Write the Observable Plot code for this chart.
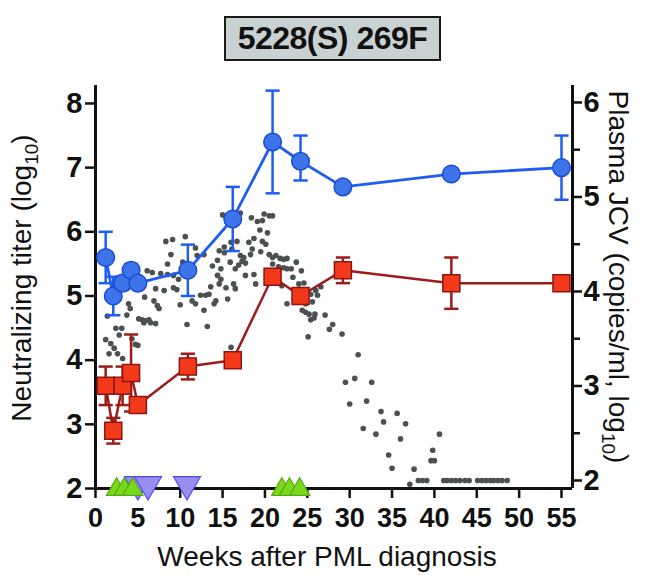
<!DOCTYPE html>
<html><head><meta charset="utf-8">
<script src="https://cdn.jsdelivr.net/npm/d3@7"></script>
<script src="https://cdn.jsdelivr.net/npm/@observablehq/plot@0.6"></script>
<style>
body{margin:0;background:#fff;}
#wrap{position:relative;width:649px;height:587px;font-family:"Liberation Sans",Arial,Helvetica,sans-serif;}
#chart{position:absolute;left:0;top:0;}
#title{position:absolute;left:224px;top:16px;width:213px;height:41px;background:#c9d2d2;border:2px solid #1a1a1a;font-weight:bold;font-size:32px;line-height:41px;text-align:center;color:#111;letter-spacing:-0.5px;}
</style></head>
<body><div id="wrap"><div id="chart"></div><div id="title">5228(S) 269F</div></div>
<script>
// ---- data ----
const titleText = "5228(S) 269F";
const xTicks = [0,5,10,15,20,25,30,35,40,45,50,55];
const leftTicks = [2,3,4,5,6,7,8];
const rightTicks = [2,3,4,5,6];
const rightMinor = [2.5,3.5,4.5,5.5];

const titerWeeks = [1.2,2.1,3.2,4.2,5.0,10.9,16.2,20.9,24.2,29.2,42,55];
const blueTiter = [5.6,5.0,5.2,5.4,5.2,5.4,6.2,7.4,7.1,6.7,6.9,7.0];
const blueLow   = [5.2,4.7,5.1,5.3,null,5.0,5.7,6.6,6.8,null,null,6.5];
const blueHigh  = [6.0,5.3,5.3,5.5,null,5.8,6.7,8.2,7.5,null,null,7.5];
const redTiter  = [3.6,2.9,3.6,3.8,3.3,3.9,4.0,5.3,5.0,5.4,5.2,5.2];
const redLow    = [3.3,2.7,3.3,3.2,null,3.7,null,null,null,5.2,4.8,null];
const redHigh   = [3.9,3.1,3.9,4.4,null,4.1,null,null,null,5.6,5.6,null];

// plasma JCV (right axis, log10 copies/ml)
const jcvWeeks = [8.3,9.1,10.6,8.9,8.5,10.3,6.1,6.7,7.7,8.5,9.2,9.8,7.1,8.1,9.2,9.6,5.8,6.9,7.3,7.5,10.0,3.9,4.1,3.7,1.4,5.1,5.5,5.9,6.3,5.7,6.5,7.1,2.4,3.1,2.8,1.2,1.8,4.3,4.7,5.0,2.2,2.6,1.6,3.2,10.8,
15.0,18.4,19.1,19.7,19.9,20.5,20.9,19.4,20.3,18.7,18.1,19.7,20.1,16.7,15.2,16.0,16.1,14.6,15.2,18.5,18.3,19.5,20.5,20.9,21.3,21.8,22.2,22.6,20.9,21.6,22.2,22.6,17.1,17.5,17.3,17.7,16.9,16.5,15.9,14.4,13.8,14.8,11.8,12.0,12.8,14.4,14.8,14.6,15.4,16.3,16.5,13.6,17.7,18.7,18.9,15.6,14.2,14.0,12.4,13.0,13.4,12.8,11.8,11.4,13.2,16.0,22.0,22.6,17.1,
23.1,23.7,24.3,23.3,24.0,24.6,24.8,25.4,25.6,26.0,26.2,26.6,24.4,24.8,25.2,25.9,25.4,25.8,27.1,27.6,28.0,29.1,25.1,31.0,29.5,30.6,32.6,30.0,
32.0,31.6,33.7,34.0,33.1,35.6,36.6,36.0,34.6,35.0,37.1,37.6,38.1,38.6,39.1,39.6,40.0,39.8,40.6,
41.1,41.5,42.0,42.5,43.0,43.6,44.1,45.1,45.6,46.1,46.6,47.0,47.5,48.0,48.6];
const jcvLog = [4.53,4.55,4.58,4.39,4.29,4.31,4.22,4.20,4.19,4.18,4.17,4.13,4.03,4.01,4.04,4.02,3.94,3.90,3.85,3.82,3.86,3.87,3.82,3.75,3.74,3.71,3.70,3.69,3.70,3.67,3.67,3.66,3.61,3.61,3.54,3.49,3.45,3.50,3.44,3.43,3.40,3.34,3.34,3.29,3.65,
4.81,4.78,4.74,4.75,4.82,4.80,4.80,4.65,4.62,4.56,4.52,4.53,4.50,4.53,4.47,4.52,4.45,4.43,4.41,4.45,4.39,4.42,4.39,4.36,4.38,4.35,4.34,4.35,4.29,4.26,4.25,4.24,4.38,4.36,4.32,4.30,4.28,4.24,4.31,4.33,4.27,4.24,4.46,4.38,4.39,4.17,4.13,4.08,4.04,4.08,4.03,4.05,4.17,4.18,4.08,3.92,3.90,3.87,3.96,3.96,3.97,3.80,3.87,3.90,3.63,3.41,4.06,3.87,4.83,
4.24,4.31,4.22,4.15,4.08,4.09,3.87,3.97,3.89,4.01,3.96,4.05,3.80,3.78,3.76,3.76,3.70,3.72,3.75,3.60,3.65,3.55,3.52,3.33,3.04,3.08,3.04,2.81,
2.84,2.55,2.73,2.62,2.49,2.71,2.60,2.44,2.27,2.13,1.96,2.12,2.0,2.0,2.0,2.21,2.21,2.32,2.49,
2.0,2.0,2.0,2.0,2.0,2.0,2.0,2.0,2.0,2.0,2.0,2.0,2.0,2.0,2.0];

// treatment / event markers on the time axis
const upWeeks = [2.5,3.4,4.4,22.0,22.9,24.1];
const downWeeks = [5.0,6.2,10.8];

const xMax = 56.3;
const yMin = 2, yMax = 8.28;

// right axis (JCV) -> left axis units
const toLeft = r => 2.125 + (r - 2) * 1.4727;
const fromLeft = v => 2 + (v - 2.125) / 1.4727;

// ---- tables ----
const blue = titerWeeks.map((w,i)=>({week:w, v:blueTiter[i], lo:blueLow[i], hi:blueHigh[i]}));
const red  = titerWeeks.map((w,i)=>({week:w, v:redTiter[i], lo:redLow[i], hi:redHigh[i]}));
const blueErr = blue.filter(d=>d.lo!=null);
const redErr = red.filter(d=>d.lo!=null);
const caps = arr => arr.flatMap(d=>[{week:d.week, v:d.lo},{week:d.week, v:d.hi}]);
const jcv = jcvWeeks.map((w,i)=>({week:w, v:toLeft(jcvLog[i])}));
const ups = upWeeks.map(w=>({week:w, v:yMin}));
const downs = downWeeks.map(w=>({week:w, v:yMin}));

const capSymbol = {draw(ctx, size){ const w = Math.sqrt(size); ctx.moveTo(-w,0); ctx.lineTo(w,0); }};

const BLUE_LINE = "#1f5cf4", BLUE_FILL = "#3d74ea", BLUE_STROKE = "#1a4cd6";
const RED_LINE = "#9c1b1b", RED_FILL = "#f23a1a", RED_STROKE = "#8e1512";
const FONT = '"Liberation Sans", Arial, Helvetica, sans-serif';

const plot = Plot.plot({
  width: 649, height: 587,
  marginLeft: 95, marginRight: 77, marginTop: 85, marginBottom: 99,
  x: {domain: [0, xMax]},
  y: {domain: [yMin, yMax]},
  style: {fontFamily: FONT, color: "#111", background: "white", overflow: "visible"},
  marks: [
    Plot.axisX(xTicks, {tickSize: 10, tickPadding: 9, fontSize: 27, fontWeight: "bold", strokeWidth: 2.5, label: null, tickFormat: d => String(d)}),
    Plot.axisY(leftTicks, {anchor: "left", tickSize: 10, tickPadding: 3, fontSize: 29, fontWeight: "bold", strokeWidth: 2.5, label: null, tickFormat: d => String(d)}),
    Plot.axisY(rightTicks.map(toLeft), {anchor: "right", tickSize: 9, tickPadding: 2, fontSize: 29, fontWeight: "bold", strokeWidth: 2.5, label: null, tickFormat: v => String(Math.round(fromLeft(v)))}),
    Plot.axisY(rightMinor.map(toLeft), {anchor: "right", tickSize: 7, strokeWidth: 2.5, label: null, tickFormat: () => ""}),
    Plot.ruleX([0], {strokeWidth: 3, stroke: "#111"}),
    Plot.ruleX([xMax], {strokeWidth: 3, stroke: "#111"}),
    Plot.ruleY([yMin], {strokeWidth: 3, stroke: "#111"}),
    Plot.dot(jcv, {x: "week", y: "v", r: 2.8, fill: "#4b5050"}),
    // red series
    Plot.ruleX(redErr, {x: "week", y1: "lo", y2: "hi", stroke: RED_LINE, strokeWidth: 2.5}),
    Plot.dot(caps(redErr), {x: "week", y: "v", symbol: capSymbol, r: 4, stroke: RED_LINE, strokeWidth: 2.5, fill: "none"}),
    Plot.line(red, {x: "week", y: "v", stroke: RED_LINE, strokeWidth: 2.5}),
    Plot.dot(red, {x: "week", y: "v", symbol: "square", r: 9.6, fill: RED_FILL, stroke: RED_STROKE, strokeWidth: 1.5}),
    // blue series
    Plot.ruleX(blueErr, {x: "week", y1: "lo", y2: "hi", stroke: BLUE_LINE, strokeWidth: 2.5}),
    Plot.dot(caps(blueErr), {x: "week", y: "v", symbol: capSymbol, r: 4, stroke: BLUE_LINE, strokeWidth: 2.5, fill: "none"}),
    Plot.line(blue, {x: "week", y: "v", stroke: BLUE_LINE, strokeWidth: 2.8}),
    Plot.dot(blue, {x: "week", y: "v", r: 8.8, fill: BLUE_FILL, stroke: BLUE_STROKE, strokeWidth: 1.5}),
    // event triangles
    Plot.dot(downs, {x: "week", y: "v", symbol: "triangle", rotate: 180, r: 10, dy: -4, fill: "#9a8df2", stroke: "#4f49ee", strokeWidth: 1.2}),
    Plot.dot(ups, {x: "week", y: "v", symbol: "triangle", r: 7.6, dy: 1, fill: "#7ad81a", stroke: "#56a914", strokeWidth: 1.2})
  ]
});

document.getElementById("chart").appendChild(plot);
document.getElementById("title").textContent = titleText;

// axis titles
const svg = d3.select(plot);
const lab = svg.append("g").attr("font-family", FONT).attr("fill", "#111").attr("font-size", 28);
const lt = lab.append("text").attr("transform", "translate(31,278) rotate(-90)").attr("text-anchor", "middle");
lt.append("tspan").text("Neutralizing titer (log");
lt.append("tspan").attr("font-size", 19).attr("dy", 7).text("10");
lt.append("tspan").attr("dy", -7).text(")");
const rt = lab.append("text").attr("transform", "translate(609,277) rotate(90)").attr("text-anchor", "middle");
rt.append("tspan").text("Plasma JCV (copies/ml, log");
rt.append("tspan").attr("font-size", 19).attr("dy", 7).text("10");
rt.append("tspan").attr("dy", -7).text(")");
lab.append("text").attr("x", 327).attr("y", 566).attr("text-anchor", "middle").text("Weeks after PML diagnosis");
</script>
</body></html>
